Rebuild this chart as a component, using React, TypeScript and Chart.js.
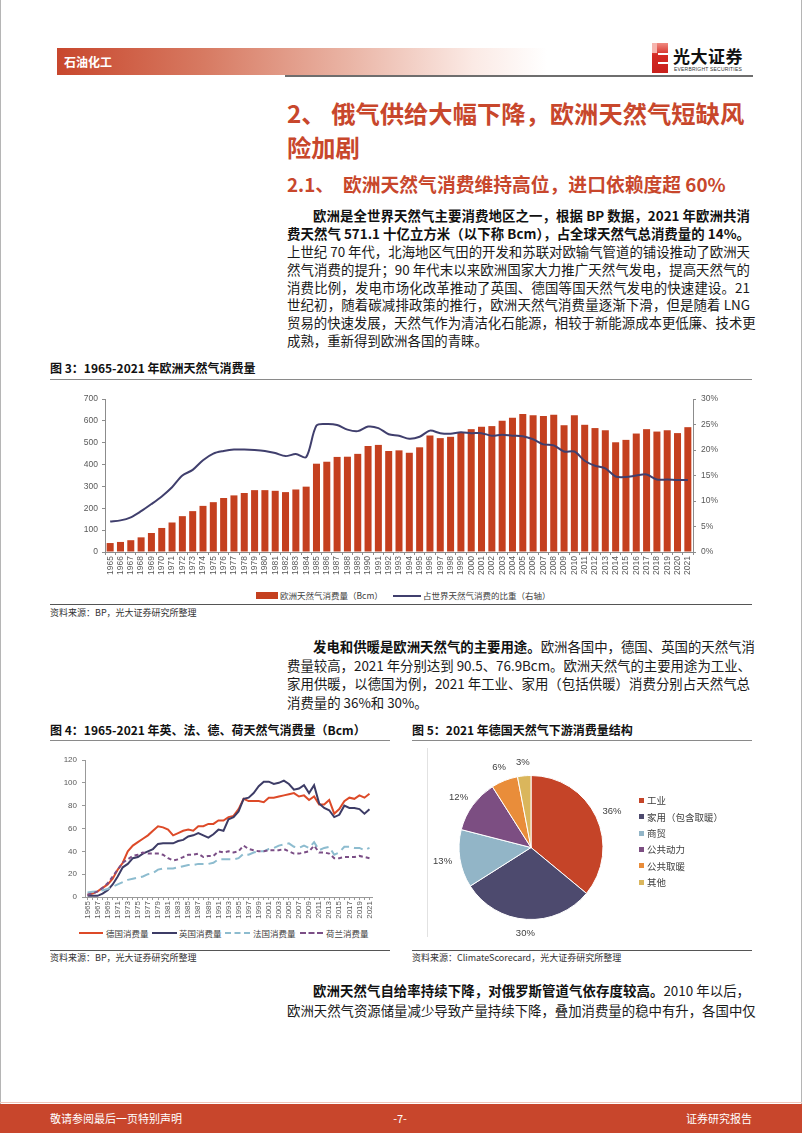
import React, { useEffect, useRef } from "react";
import { Chart, registerables } from "chart.js";

Chart.register(...registerables);

// ---------- DATA ----------
const years = [
  "1965","1966","1967","1968","1969","1970","1971","1972","1973","1974",
  "1975","1976","1977","1978","1979","1980","1981","1982","1983","1984",
  "1985","1986","1987","1988","1989","1990","1991","1992","1993","1994",
  "1995","1996","1997","1998","1999","2000","2001","2002","2003","2004",
  "2005","2006","2007","2008","2009","2010","2011","2012","2013","2014",
  "2015","2016","2017","2018","2019","2020","2021",
];

const europeConsumption = [
  41, 46, 54, 67, 87, 110, 135, 164, 187, 211,
  228, 247, 259, 270, 283, 283, 280, 274, 286, 299,
  404, 413, 435, 436, 449, 485, 490, 462, 465, 454,
  479, 533, 521, 527, 547, 562, 573, 576, 600, 614,
  631, 626, 622, 628, 580, 626, 582, 567, 557, 502,
  513, 542, 562, 551, 557, 544, 571.1,
];

const worldShare = [
  6.0, 6.2, 6.8, 8.0, 9.4, 10.9, 12.7, 15.0, 16.1, 18.0,
  19.3, 19.8, 20.1, 20.1, 20.0, 19.8, 19.4, 18.8, 19.2, 18.6,
  24.8, 25.1, 24.9, 24.0, 23.7, 24.6, 24.3, 23.1, 22.8, 22.2,
  22.6, 23.8, 23.3, 23.2, 23.5, 23.3, 23.3, 22.8, 23.0, 22.8,
  22.7, 22.1, 21.1, 20.9, 19.7, 19.7, 17.9, 16.9, 16.4, 14.8,
  14.7, 15.0, 15.2, 14.2, 14.2, 14.1, 14.1,
];

const germany = [
  2, 3, 5, 8, 11, 16, 24, 30, 40, 45,
  48, 51, 54, 58, 62, 61, 59, 54, 56, 58,
  59, 58, 62, 62, 64, 64, 67, 67, 70, 71,
  77, 86, 84, 84, 84, 83, 87, 87, 88, 89,
  90, 91, 88, 89, 85, 88, 81, 81, 85, 73,
  77, 84, 87, 86, 89, 87, 90.5,
];

const uk = [
  1, 1, 1, 3, 6, 11, 18, 26, 29, 34,
  35, 38, 40, 42, 46.5, 47, 47, 47, 49, 50,
  53, 54, 56, 54, 52, 55, 59, 58, 68, 70,
  75, 86, 87, 91, 97, 101, 101, 99, 100, 102,
  99, 94, 95, 98, 91, 98, 82, 78, 76, 70,
  72, 80, 78, 78, 77, 73, 76.9,
];

const france = [
  4, 4.5, 5, 6, 7, 9, 11, 13, 15, 16,
  17, 18, 20, 21, 24, 25, 25, 25, 26, 27,
  28, 28, 29, 29, 29, 30, 33, 33, 33, 33,
  34, 38, 37, 39, 40, 40, 42, 43, 45, 46,
  47, 44, 43, 45, 43, 48, 41, 43, 44, 37,
  39, 44, 44, 43, 43, 41, 43,
];

const netherlands = [
  2, 3, 5, 8, 12, 18, 24, 30, 33, 36,
  37, 39, 38, 38, 38, 37, 34, 32, 33, 35,
  37, 37, 38, 35, 36, 36, 40, 39, 40, 39,
  40, 45, 42, 41, 40, 40, 41, 41, 41, 42,
  40, 38, 38, 39, 40, 45, 39, 39, 38, 34,
  34, 35, 35, 35, 36, 35, 34,
];

const pieLabels = ["工业", "家用（包含取暖）", "商贸", "公共动力", "公共取暖", "其他"];
const pieValues = [36, 30, 13, 12, 6, 3];

const fig3Legend = ["欧洲天然气消费量（Bcm）", "占世界天然气消费的比重（右轴）"];
const fig4Legend = ["德国消费量", "英国消费量", "法国消费量", "荷兰消费量"];

// ---------- STYLE ----------
const CJK = '"Noto Sans CJK SC", "Noto Sans", sans-serif';
const TICKF = '"Liberation Sans", Arial, sans-serif';
const RED_TEXT = "#c8472c";
const BAR_RED = "#c4401f";
const NAVY = "#403f6d";
const PIE_COLORS = ["#c54428", "#4d4a6e", "#92b5c7", "#7c4e82", "#e98d3a", "#dab65c"];
const L4_COLORS = ["#dd4a28", "#3d3c66", "#8dbccf", "#7b4e86"];

const vFit = (w: number) => (s: any) => {
  s.width = w;
  s.paddingTop = 0;
  s.paddingBottom = 0;
};
const hFit = (h: number) => (s: any) => {
  s.height = h;
  s.paddingLeft = 0;
  s.paddingRight = 0;
};

function useChart(make: () => any) {
  const ref = useRef<HTMLCanvasElement | null>(null);
  useEffect(() => {
    if (!ref.current) return;
    const chart = new Chart(ref.current, make());
    return () => chart.destroy();
  }, []);
  return ref;
}

function Fig3Chart() {
  const ref = useChart(() => ({
    type: "bar",
    data: {
      labels: years,
      datasets: [
        {
          type: "line",
          label: fig3Legend[1],
          data: worldShare,
          borderColor: NAVY,
          borderWidth: 2,
          pointRadius: 0,
          tension: 0.3,
          yAxisID: "y1",
          order: 1,
        },
        {
          type: "bar",
          label: fig3Legend[0],
          data: europeConsumption,
          backgroundColor: BAR_RED,
          yAxisID: "y",
          order: 2,
          barPercentage: 0.68,
          categoryPercentage: 1,
        },
      ],
    },
    options: {
      responsive: true,
      maintainAspectRatio: false,
      animation: false,
      layout: { padding: { top: 9, left: 0, right: 0, bottom: 0 } },
      plugins: { legend: { display: false }, tooltip: { enabled: false } },
      scales: {
        x: {
          grid: { drawOnChartArea: false, drawTicks: true, tickLength: 3, color: "#8c8c8c" },
          border: { color: "#8c8c8c" },
          ticks: {
            font: { size: 8.5, family: TICKF },
            color: "#595959",
            maxRotation: 90,
            minRotation: 90,
            autoSkip: false,
            padding: 1,
          },
          afterFit: hFit(33),
        },
        y: {
          position: "left",
          min: 0,
          max: 700,
          grid: { drawOnChartArea: false, drawTicks: true, tickLength: 3, color: "#8c8c8c" },
          border: { color: "#8c8c8c" },
          ticks: { stepSize: 100, font: { size: 8.5, family: TICKF }, color: "#595959", padding: 4 },
          afterFit: vFit(55),
        },
        y1: {
          position: "right",
          min: 0,
          max: 30,
          grid: { drawOnChartArea: false, drawTicks: true, tickLength: 3, color: "#8c8c8c" },
          border: { color: "#8c8c8c" },
          ticks: {
            stepSize: 5,
            font: { size: 8.5, family: TICKF },
            color: "#595959",
            padding: 5,
            callback: (v: any) => v + "%",
          },
          afterFit: vFit(67),
        },
      },
    },
  }));
  return (
    <div style={{ position: "absolute", left: 50, top: 390, width: 710, height: 195 }}>
      <canvas ref={ref} />
    </div>
  );
}

function Fig4Chart() {
  const mk = (label: string, data: number[], color: string, dash: number[]) => ({
    label,
    data,
    borderColor: color,
    borderWidth: 2,
    borderDash: dash,
    pointRadius: 0,
    tension: 0,
    fill: false,
  });
  const ref = useChart(() => ({
    type: "line",
    data: {
      labels: years,
      datasets: [
        mk(fig4Legend[3], netherlands, L4_COLORS[3], [4, 3]),
        mk(fig4Legend[2], france, L4_COLORS[2], [9, 5]),
        mk(fig4Legend[1], uk, L4_COLORS[1], []),
        mk(fig4Legend[0], germany, L4_COLORS[0], []),
      ],
    },
    options: {
      responsive: true,
      maintainAspectRatio: false,
      animation: false,
      layout: { padding: { top: 10, left: 0, right: 13, bottom: 0 } },
      plugins: { legend: { display: false }, tooltip: { enabled: false } },
      scales: {
        x: {
          offset: true,
          grid: { drawOnChartArea: false, drawTicks: true, tickLength: 3, color: "#999" },
          border: { color: "#999" },
          ticks: {
            font: { size: 8, family: TICKF },
            color: "#595959",
            maxRotation: 90,
            minRotation: 90,
            autoSkip: false,
            padding: 1,
            callback: (_v: any, i: number) => (i % 2 === 0 ? years[i] : ""),
          },
          afterFit: hFit(28),
        },
        y: {
          min: 0,
          max: 120,
          grid: { drawOnChartArea: false, drawTicks: true, tickLength: 3, color: "#999" },
          border: { color: "#999" },
          ticks: { stepSize: 20, font: { size: 8, family: TICKF }, color: "#595959", padding: 5 },
          afterFit: vFit(40),
        },
      },
    },
  }));
  return (
    <div style={{ position: "absolute", left: 45, top: 750, width: 340, height: 175 }}>
      <canvas ref={ref} />
    </div>
  );
}

const pieLabelPlugin = {
  id: "pieLabels",
  afterDatasetsDraw(chart: any) {
    const ctx = chart.ctx;
    const meta = chart.getDatasetMeta(0);
    ctx.save();
    ctx.font = `9.5px ${TICKF}`;
    ctx.fillStyle = "#404040";
    ctx.textAlign = "center";
    ctx.textBaseline = "middle";
    meta.data.forEach((arc: any, i: number) => {
      const p = arc.getProps(["x", "y", "startAngle", "endAngle", "outerRadius"], true);
      const mid = (p.startAngle + p.endAngle) / 2;
      const dx = Math.cos(mid);
      const dy = Math.sin(mid);
      const txt = chart.data.datasets[0].data[i] + "%";
      const w = ctx.measureText(txt).width;
      const r = p.outerRadius + 8;
      ctx.fillText(txt, p.x + dx * r + (dx * w) / 2, p.y + dy * r + dy * 6);
    });
    ctx.restore();
  },
};

function Fig5Chart() {
  const ref = useChart(() => ({
    type: "pie",
    data: {
      labels: pieLabels,
      datasets: [
        {
          data: pieValues,
          backgroundColor: PIE_COLORS,
          borderColor: "#ffffff",
          borderWidth: 1,
        },
      ],
    },
    options: {
      responsive: true,
      maintainAspectRatio: false,
      animation: false,
      layout: { padding: { left: 33, right: 151, top: 25, bottom: 25 } },
      plugins: { legend: { display: false }, tooltip: { enabled: false } },
    },
    plugins: [pieLabelPlugin],
  }));
  return (
    <div style={{ position: "absolute", left: 425, top: 750, width: 330, height: 195 }}>
      <canvas ref={ref} />
    </div>
  );
}

// ---------- TEXT HELPERS ----------
type TP = {
  x: number;
  y: number;
  w?: number;
  fs: number;
  lh?: number;
  bold?: boolean;
  color?: string;
  justify?: boolean;
  align?: "left" | "center" | "right";
  family?: string;
  children: React.ReactNode;
  style?: React.CSSProperties;
};
function T({ x, y, w, fs, lh, bold, color, justify, align, family, children, style }: TP) {
  const L = lh ?? Math.round(fs * 1.5);
  return (
    <div
      style={{
        position: "absolute",
        left: x,
        top: y - L / 2,
        width: w,
        height: L,
        lineHeight: L + "px",
        fontSize: fs,
        fontWeight: bold ? 700 : 400,
        color: color ?? "#1a1a1a",
        fontFamily: family ?? CJK,
        whiteSpace: "nowrap",
        textAlign: justify ? "justify" : align ?? "left",
        textAlignLast: justify ? "justify" : (align as any) ?? "left",
        ...style,
      }}
    >
      {children}
    </div>
  );
}

function HLine({ x, y, w, h = 1, c = "#888" }: { x: number; y: number; w: number; h?: number; c?: string }) {
  return <div style={{ position: "absolute", left: x, top: y, width: w, height: h, background: c }} />;
}

const BODY_FS = 13.4;
const TX = 287;
const TW = 463;

export default function App() {
  const p1 = [
    "上世纪 70 年代，北海地区气田的开发和苏联对欧输气管道的铺设推动了欧洲天",
    "然气消费的提升；90 年代末以来欧洲国家大力推广天然气发电，提高天然气的",
    "消费比例，发电市场化改革推动了英国、德国等国天然气发电的快速建设。21",
    "世纪初，随着碳减排政策的推行，欧洲天然气消费量逐渐下滑，但是随着 LNG",
    "贸易的快速发展，天然气作为清洁化石能源，相较于新能源成本更低廉、技术更",
  ];
  const p1y = [250.7, 268.6, 286.5, 304.4, 322.3];
  return (
    <div
      style={{
        position: "absolute",
        left: 0,
        top: 0,
        width: 802,
        height: 1133,
        background: "#fff",
        overflow: "hidden",
        fontFamily: CJK,
      }}
    >
      {/* page edges */}
      <div style={{ position: "absolute", left: 0, top: 0, width: 1, height: 1133, background: "#b5b5b5" }} />
      <div style={{ position: "absolute", right: 0, top: 0, width: 1, height: 1133, background: "#b5b5b5" }} />

      {/* header */}
      <div
        style={{
          position: "absolute",
          left: 57,
          top: 48,
          width: 490,
          height: 27,
          background: "linear-gradient(to right, #c8472d 0%, #d77a62 30%, #eab5a6 60%, #fbeae5 85%, #ffffff 100%)",
        }}
      />
      <T x={64} y={61.5} fs={12} bold color="#ffffff">石油化工</T>
      <HLine x={285} y={75} w={468} h={2} c="#6e6e6e" />
      {/* logo */}
      <div style={{ position: "absolute", left: 652, top: 43, width: 16, height: 30, background: "linear-gradient(to bottom, #f08a80, #d42a23 40%, #c8201c)" }} />
      <div style={{ position: "absolute", left: 652, top: 43, width: 5, height: 10, background: "#f6b5ae" }} />
      <div style={{ position: "absolute", left: 658, top: 53, width: 10, height: 1.5, background: "#fff" }} />
      <div style={{ position: "absolute", left: 658, top: 62, width: 10, height: 1.5, background: "#fff" }} />
      <T x={673} y={56} fs={17} bold color="#111" style={{ letterSpacing: 0.5 }}>光大证券</T>
      <T x={674} y={69} fs={5} color="#333" family={TICKF} style={{ letterSpacing: 0.2 }}>EVERBRIGHT SECURITIES</T>

      {/* titles */}
      <T x={TX} y={113} fs={24.3} lh={34} bold color={RED_TEXT}>2、 俄气供给大幅下降，欧洲天然气短缺风</T>
      <T x={TX} y={147} fs={24.3} lh={34} bold color={RED_TEXT}>险加剧</T>
      <T x={TX} y={183.5} fs={18.8} lh={26} bold color={RED_TEXT}>2.1、</T>
      <T x={343} y={183.5} fs={18.8} lh={26} bold color={RED_TEXT}>欧洲天然气消费维持高位，进口依赖度超 60%</T>

      {/* paragraph 1 */}
      <T x={313} w={437} y={215} fs={BODY_FS} lh={18} bold justify color="#111">
        欧洲是全世界天然气主要消费地区之一，根据 BP 数据，2021 年欧洲共消
      </T>
      <T x={TX} w={TW} y={232.8} fs={BODY_FS} lh={18} bold justify color="#111">
        费天然气 571.1 十亿立方米（以下称 Bcm），占全球天然气总消费量的 14%。
      </T>
      {p1.map((s, i) => (
        <T key={i} x={TX} w={TW} y={p1y[i]} fs={BODY_FS} lh={18} justify>
          {s}
        </T>
      ))}
      <T x={TX} y={340.2} fs={BODY_FS} lh={18}>成熟，重新得到欧洲各国的青睐。</T>

      {/* figure 3 */}
      <T x={50} y={368} fs={12} bold color="#111">图 3：1965-2021 年欧洲天然气消费量</T>
      <HLine x={50} y={378.5} w={702} h={1} c="#8a8a8a" />
      <Fig3Chart />
      <div style={{ position: "absolute", left: 256, top: 592, width: 22, height: 7, background: BAR_RED }} />
      <T x={280} y={595.5} fs={8.5} color="#404040">{fig3Legend[0]}</T>
      <HLine x={393} y={594.5} w={28} h={2} c={NAVY} />
      <T x={423} y={595.5} fs={8.5} color="#404040">{fig3Legend[1]}</T>
      <HLine x={50} y={604} w={702} h={1.3} c="#555" />
      <T x={50} y={613} fs={9} color="#333">资料来源：BP，光大证券研究所整理</T>

      {/* paragraph 2 */}
      <T x={313} w={437} y={646} fs={BODY_FS} lh={18} justify>
        <b style={{ color: "#111" }}>发电和供暖是欧洲天然气的主要用途。</b>欧洲各国中，德国、英国的天然气消
      </T>
      <T x={TX} w={TW} y={664.5} fs={BODY_FS} lh={18} justify>
        费量较高，2021 年分别达到 90.5、76.9Bcm。欧洲天然气的主要用途为工业、
      </T>
      <T x={TX} w={TW} y={683} fs={BODY_FS} lh={18} justify>
        家用供暖，以德国为例，2021 年工业、家用（包括供暖）消费分别占天然气总
      </T>
      <T x={TX} y={701.5} fs={BODY_FS} lh={18}>消费量的 36%和 30%。</T>

      {/* figure 4 */}
      <T x={50} y={730} fs={12} bold color="#111">图 4：1965-2021 年英、法、德、荷天然气消费量（Bcm）</T>
      <HLine x={50} y={740} w={340} h={1} c="#8a8a8a" />
      <Fig4Chart />
      <HLine x={79} y={932} w={24} h={2} c={L4_COLORS[0]} />
      <T x={106} y={933} fs={8.5} color="#404040">{fig4Legend[0]}</T>
      <HLine x={152} y={932} w={25} h={2} c={L4_COLORS[1]} />
      <T x={179} y={933} fs={8.5} color="#404040">{fig4Legend[1]}</T>
      <div style={{ position: "absolute", left: 225, top: 932, width: 25, height: 0, borderTop: `2px dashed ${L4_COLORS[2]}` }} />
      <T x={253} y={933} fs={8.5} color="#404040">{fig4Legend[2]}</T>
      <div style={{ position: "absolute", left: 300, top: 932, width: 23, height: 0, borderTop: `2px dashed ${L4_COLORS[3]}` }} />
      <T x={326} y={933} fs={8.5} color="#404040">{fig4Legend[3]}</T>
      <HLine x={50} y={950} w={340} h={1.3} c="#555" />
      <T x={50} y={958} fs={9} color="#333">资料来源：BP，光大证券研究所整理</T>

      {/* figure 5 */}
      <T x={412} y={730} fs={12} bold color="#111">图 5：2021 年德国天然气下游消费量结构</T>
      <HLine x={412} y={740} w={340} h={1} c="#8a8a8a" />
      <div style={{ position: "absolute", left: 427, top: 748, width: 1, height: 189, background: "#e2e2e2" }} />
      <Fig5Chart />
      {pieLabels.map((l, i) => (
        <React.Fragment key={l}>
          <div
            style={{
              position: "absolute",
              left: 639,
              top: [800, 816.6, 833.2, 849, 865.6, 882.2][i] - 2.5,
              width: 5,
              height: 5,
              background: PIE_COLORS[i],
            }}
          />
          <T x={647} y={[800, 816.6, 833.2, 849, 865.6, 882.2][i]} fs={9.5} color="#404040">
            {l}
          </T>
        </React.Fragment>
      ))}
      <HLine x={412} y={950} w={340} h={1.3} c="#555" />
      <T x={412} y={958} fs={9} color="#333">资料来源：ClimateScorecard，光大证券研究所整理</T>

      {/* paragraph 3 */}
      <T x={313} w={437} y={990} fs={BODY_FS} lh={18} justify>
        <b style={{ color: "#111" }}>欧洲天然气自给率持续下降，对俄罗斯管道气依存度较高。</b>2010 年以后，
      </T>
      <T x={TX} w={TW} y={1009.5} fs={BODY_FS} lh={18} justify>
        欧洲天然气资源储量减少导致产量持续下降，叠加消费量的稳中有升，各国中仅
      </T>

      {/* footer */}
      <HLine x={0} y={1102} w={802} h={1} c="#efc6bb" />
      <div style={{ position: "absolute", left: 0, top: 1104, width: 802, height: 29, background: "#c8462c" }} />
      <T x={50} y={1118} fs={11} color="#ffffff">敬请参阅最后一页特别声明</T>
      <T x={370} w={60} y={1118} fs={11} color="#ffffff" align="center">-7-</T>
      <T x={652} w={100} y={1118} fs={11} color="#ffffff" align="right">证券研究报告</T>
    </div>
  );
}
